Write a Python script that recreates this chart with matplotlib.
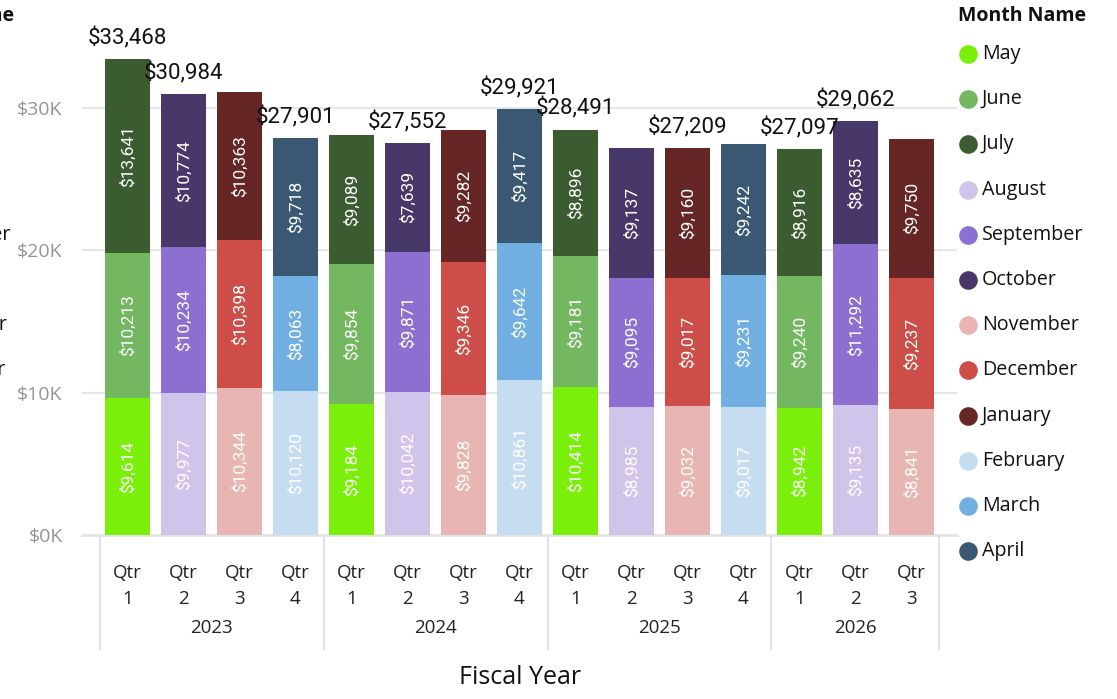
import matplotlib
matplotlib.use("Agg")
import matplotlib.pyplot as plt
from matplotlib.transforms import blended_transform_factory

# Months of the fiscal year (starts in May) and their colours
months = ["May", "June", "July", "August", "September", "October",
          "November", "December", "January", "February", "March", "April"]
month_colors = ["#7AF00A", "#73B761", "#3B5B31", "#D1C4EB", "#8C6FD0", "#483769",
                "#E9B5B2", "#CD4E48", "#672626", "#C6DDF1", "#71AEE1", "#3A5872"]

years = ["2023", "2024", "2025", "2026"]
quarters = ["1", "2", "3", "4", "1", "2", "3", "4", "1", "2", "3", "4", "1", "2", "3"]

# Sales per quarter, split into the 1st / 2nd / 3rd month of the quarter
first_month = [9614, 9977, 10344, 10120, 9184, 10042, 9828, 10861,
               10414, 8985, 9032, 9017, 8942, 9135, 8841]
second_month = [10213, 10234, 10398, 8063, 9854, 9871, 9346, 9642,
                9181, 9095, 9017, 9231, 9240, 11292, 9237]
third_month = [13641, 10774, 10363, 9718, 9089, 7639, 9282, 9417,
               8896, 9137, 9160, 9242, 8916, 8635, 9750]

# Quarter totals shown above the bars (None = label hidden)
totals = [33468, 30984, None, 27901, None, 27552, None, 29921,
          28491, None, 27209, None, 27097, 29062, None]

ui_font = "Open Sans"
num_font = "Roboto"

fig = plt.figure(figsize=(11.17, 6.99), dpi=100)
ax = fig.add_axes([82 / 1117, 1 - 535 / 699, 875 / 1117, 520 / 699])

n = len(quarters)
bottom = [0] * n
for k, vals in enumerate([first_month, second_month, third_month]):
    for i, v in enumerate(vals):
        q = int(quarters[i]) - 1
        ax.bar(i, v, bottom=bottom[i], width=0.8, color=month_colors[q * 3 + k], zorder=2)
        ax.text(i, bottom[i] + v / 2, f"${v:,}", rotation=90, ha="center", va="center",
                color="white", fontsize=12.5, family=num_font, zorder=3)
        bottom[i] += v

for i, t in enumerate(totals):
    if t is None:
        continue
    ax.annotate(f"${t:,}", (i, bottom[i]), xytext=(0, 7), textcoords="offset points",
                ha="center", va="bottom", fontsize=16, family=num_font, color="#111111")

ax.set_xlim(-0.8125, n - 1 + 0.8125)
ax.set_ylim(0, 36540)
ax.set_yticks([0, 10000, 20000, 30000])
ax.set_yticklabels(["$0K", "$10K", "$20K", "$30K"])
ax.yaxis.grid(True, color="#e6e6e6", lw=1.5, zorder=0)
ax.axhline(0, color="#e3e3e3", lw=2, zorder=1, clip_on=False)
for s in ax.spines.values():
    s.set_visible(False)
ax.tick_params(axis="y", length=0, pad=14, labelsize=14, labelcolor="#959595")
for lbl in ax.get_yticklabels():
    lbl.set_family(ui_font)

ax.set_xticks(range(n))
ax.set_xticklabels([f"Qtr\n{q}" for q in quarters], family=ui_font, fontsize=13.5,
                   linespacing=1.55, color="#222222")
ax.tick_params(axis="x", length=0, pad=21)

# Year level of the axis: separators and year names
trans = blended_transform_factory(ax.transData, ax.transAxes)
for xs in [-0.5, 3.5, 7.5, 11.5, 14.5]:
    ax.plot([xs, xs], [0, -0.219], transform=trans, color="#e3e3e3", lw=1.5, clip_on=False)
year_centers = [1.5, 5.5, 9.5, 13]
for xc, yr in zip(year_centers, years):
    ax.text(xc, -0.179, yr, transform=trans, ha="center", va="center",
            fontsize=13.5, family=ui_font, color="#222222")

fig.text(520 / 1117, 1 - 678 / 699, "Fiscal Year", ha="center", va="center",
         fontsize=18, family=ui_font, color="#111111")

# Legend drawn in pixel space; a second copy sits cut off at the left edge
lax = fig.add_axes([0, 0, 1, 1], zorder=-1)
lax.set_xlim(0, 1117)
lax.set_ylim(699, 0)
lax.axis("off")
for x0 in [958, 958 - 1072]:
    lax.text(x0, 16, "Month Name", fontsize=14, fontweight="bold", family=ui_font,
             va="center", ha="left", color="#111111")
    for j, (name, col) in enumerate(zip(months, month_colors)):
        y = 54 + j * 45.2
        lax.scatter([x0 + 10], [y], s=180, color=col, linewidths=0)
        lax.text(x0 + 24, y, name, fontsize=14.2, family=ui_font, va="center",
                 ha="left", color="#111111")

fig.savefig("out.png", dpi=100)
